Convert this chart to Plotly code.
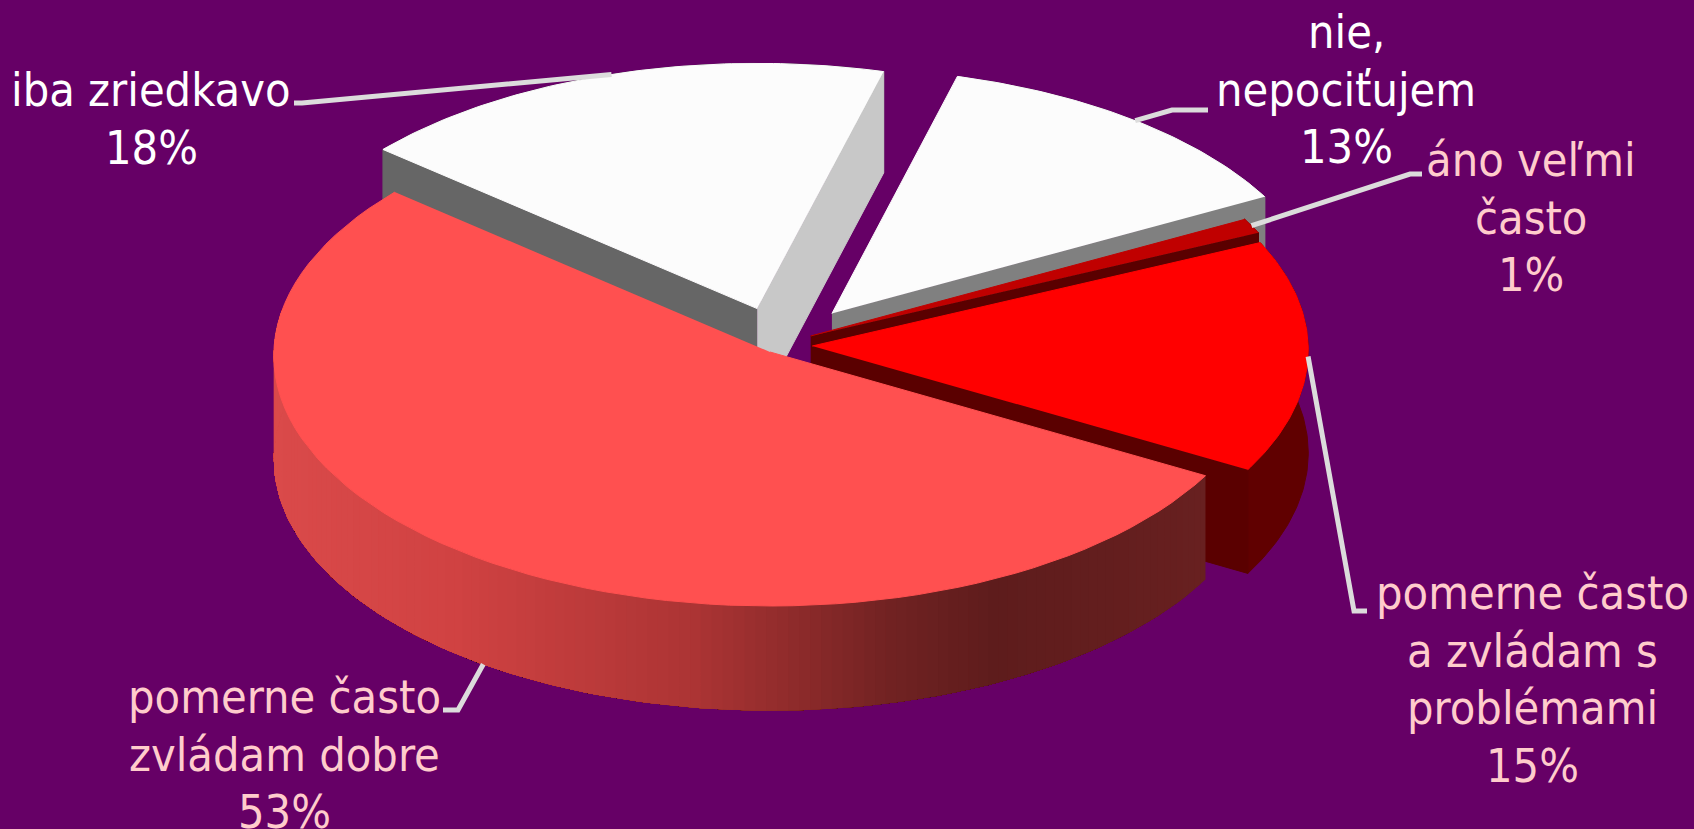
import numpy as np
import plotly.graph_objects as go

# Survey answers, clockwise from the top of the pie
categories = ["nie,<br>nepociťujem", "áno veľmi<br>často", "pomerne často<br>a zvládam s<br>problémami",
              "pomerne často<br>zvládam dobre", "iba zriedkavo"]
shares = [13, 1, 15, 53, 18]

# Pull-out of each slice, in radii along the pie's x and y directions
PULL_X = [0.117, 0.074, 0.077, -0.008, -0.034]
PULL_Y = [0.130, 0.040, 0.000, -0.024, 0.150]
START_DEG = 75.0

# Colours per slice: top face, outer wall, and the two cut walls
TOP = ["#fcfcfc", "#c00000", "#ff0000", "#ff5050", "#fcfcfc"]
OUTER = ["#808080", "#600000", "#600000", None, "#666666"]
CUT_START = [None, None, None, None, "#666666"]
CUT_END = ["#808080", "#5a0000", "#5a0000", None, "#c8c8c8"]
LABEL_COL = ["#ffffff", "#ffcccc", "#ffcccc", "#ffcccc", "#ffffff"]

BG = "#660066"
CX, CY, RX, RY, DEPTH, PERSP = 774.0, 346.0, 496.0, 250.0, 103.0, 0.015
LINE_PITCH = 57.5
FONT = "DejaVu Sans Condensed, DejaVu Sans"

# Centre of each label's first line, then the leader's start and elbow
LABEL_POS = [(1346, 32), (1531, 160), (1532, 593), (284, 697), (151, 90)]
LEADER = [((1208, 110), (1172, 110)), ((1422, 174), (1410, 174)),
          ((1367, 611), (1354, 611)), ((443, 710), (458, 710)), ((294, 103), (302, 103))]
LEADER_Z = [0, 0, 0, 1, 0]

# Rim shading of the large slice: pixel position and colour
RIM_X = [274, 460, 700, 900, 1000, 1210]
RIM_RGB = [(218, 74, 74), (208, 66, 66), (172, 52, 52), (112, 34, 34), (94, 28, 28), (104, 32, 32)]


def project(xu, yu, z=0.0):
    p = 1.0 / (1.0 + PERSP * yu)
    return CX + RX * xu * p, CY - RY * yu * p + DEPTH * z * p


def arc(a0, a1, n=80):
    return np.radians(np.linspace(a0, a1, n))


def poly(fig, xs, ys, color, width=1):
    fig.add_trace(go.Scatter(x=xs, y=ys, mode="lines", fill="toself", fillcolor=color,
                             line=dict(color=color, width=width), hoverinfo="skip", showlegend=False))


def rim_colour(x):
    rgb = [np.interp(x, RIM_X, [c[i] for c in RIM_RGB]) for i in range(3)]
    return "rgb(%d,%d,%d)" % tuple(int(round(c)) for c in rgb)


fig = go.Figure()
total = sum(shares)
angles = [START_DEG]
for s in shares:
    angles.append(angles[-1] - 360.0 * s / total)
mids = [(angles[i] + angles[i + 1]) / 2 for i in range(len(shares))]

# Slices are painted back to front
for i in [4, 0, 1, 2, 3]:
    a0, a1 = angles[i], angles[i + 1]
    ox, oy = PULL_X[i], PULL_Y[i]
    t = arc(a0, a1)
    ux, uy = ox + np.cos(t), oy + np.sin(t)
    tx, ty = project(ux, uy)
    bx, by = project(ux, uy, 1.0)
    ax, ay = project(ox, oy)
    abx, aby = project(ox, oy, 1.0)

    if OUTER[i]:
        poly(fig, list(tx) + list(bx[::-1]), list(ty) + list(by[::-1]), OUTER[i])
    else:
        # Each band overlaps the rest of the rim, so no seams show between bands
        last = max(a1, -190.0)
        bands = np.linspace(a0, last, 130)
        for k in range(len(bands) - 1):
            f = arc(bands[k], last, 130 - k)
            fx, fy = project(ox + np.cos(f), oy + np.sin(f))
            gx, gy = project(ox + np.cos(f), oy + np.sin(f), 1.0)
            poly(fig, list(fx) + list(gx[::-1]), list(fy) + list(gy[::-1]),
                 rim_colour(fx[0]), width=0)
    if CUT_START[i]:
        poly(fig, [ax, tx[0], bx[0], abx], [ay, ty[0], by[0], aby], CUT_START[i])
    if CUT_END[i]:
        poly(fig, [ax, tx[-1], bx[-1], abx], [ay, ty[-1], by[-1], aby], CUT_END[i])
    poly(fig, [ax] + list(tx), [ay] + list(ty), TOP[i])

# Leader lines run from the label to the rim at the middle of the slice
for i in range(len(shares)):
    m = np.radians(mids[i])
    ex, ey = project(PULL_X[i] + np.cos(m), PULL_Y[i] + np.sin(m), LEADER_Z[i])
    (x0, y0), (sx, sy) = LEADER[i]
    fig.add_trace(go.Scatter(x=[x0, sx, ex], y=[y0, sy, ey], mode="lines",
                             line=dict(color="#dcdcdc", width=5), hoverinfo="skip", showlegend=False))

# Labels are set line by line to hold the line spacing
for i, cat in enumerate(categories):
    x, y = LABEL_POS[i]
    lines = cat.split("<br>") + [f"{shares[i]}%"]
    for j, line in enumerate(lines):
        fig.add_annotation(x=x, y=y + j * LINE_PITCH, xref="x", yref="y", yanchor="middle",
                           xanchor="center", text=line, showarrow=False,
                           font=dict(family=FONT, size=46.5, color=LABEL_COL[i]))

fig.update_layout(width=1694, height=829, margin=dict(l=0, r=0, t=0, b=0),
                  paper_bgcolor=BG, plot_bgcolor=BG, showlegend=False,
                  xaxis=dict(range=[0, 1694], visible=False, fixedrange=True),
                  yaxis=dict(range=[829, 0], visible=False, fixedrange=True))
fig.write_html("out.html")
